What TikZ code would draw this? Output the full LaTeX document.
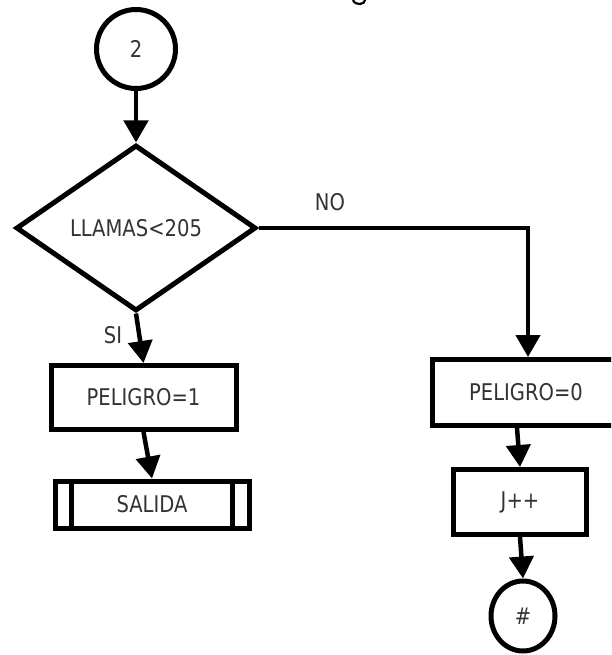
\documentclass[tikz,border=0pt]{standalone}
\usepackage{fontspec}
\setmainfont{DejaVu Sans}[FakeStretch=0.85]
\usetikzlibrary{shapes.geometric,arrows.meta}
\definecolor{txt}{HTML}{333333}
\begin{document}
\begin{tikzpicture}[x=1pt,y=-1pt,
  every node/.style={font=\fontsize{23}{27}\selectfont, text=txt},
  shapeline/.style={draw=black, line width=5pt, inner sep=0pt},
  procbox/.style={shapeline, rectangle},
  connector/.style={shapeline, circle},
  decision/.style={shapeline, diamond},
  flow/.style={draw=black, line width=4.5pt, -{Triangle[length=22pt,width=24pt]}},
  lbl/.style={inner sep=0pt}]
\useasboundingbox (0,0) rectangle (611,655);
\clip (0,0) rectangle (611,655);
% clipped stroke of a title above the picture
\draw[line width=2.2pt] (353,0) .. controls (354,3.5) and (358,4) .. (360,4) .. controls (363,4) and (365,2) .. (365.5,-1);
\node[connector, minimum size=79pt] (c2) at (136,49) {2};
\node[decision, minimum width=240pt, minimum height=166pt] (d) at (136,228) {LLAMAS<205};
\node[procbox, minimum width=185pt, minimum height=64pt] (p1) at (143.5,397.5) {PELIGRO=1};
\node[procbox, minimum width=194pt, minimum height=47pt] (s) at (152,504.5) {SALIDA};
\draw[line width=5pt] ([xshift=19pt]s.north west) -- ([xshift=19pt]s.south west);
\draw[line width=5pt] ([xshift=-19pt]s.north east) -- ([xshift=-19pt]s.south east);
\node[procbox, minimum width=187pt, minimum height=66pt] (p0) at (526,392.5) {PELIGRO=0};
\node[procbox, minimum width=133pt, minimum height=65pt] (j) at (520,502) {J++};
\node[shapeline, ellipse, minimum width=64pt, minimum height=70pt] (e) at (523,616) {\#};
\node[lbl] (no) at (330,202) {NO};
\node[lbl] (si) at (113,335) {SI};
\draw[flow] (c2.south) -- (d.north);
\draw[flow] (d.east) -| ([xshift=2pt]p0.north);
\draw[flow] (d.south) -- (p1.north);
\draw[flow] (p1.south) -- (s.north);
\draw[flow] ([xshift=-9pt]p0.south) -- (j.north);
\draw[flow] (j.south) -- (e.north);
\end{tikzpicture}
\end{document}
